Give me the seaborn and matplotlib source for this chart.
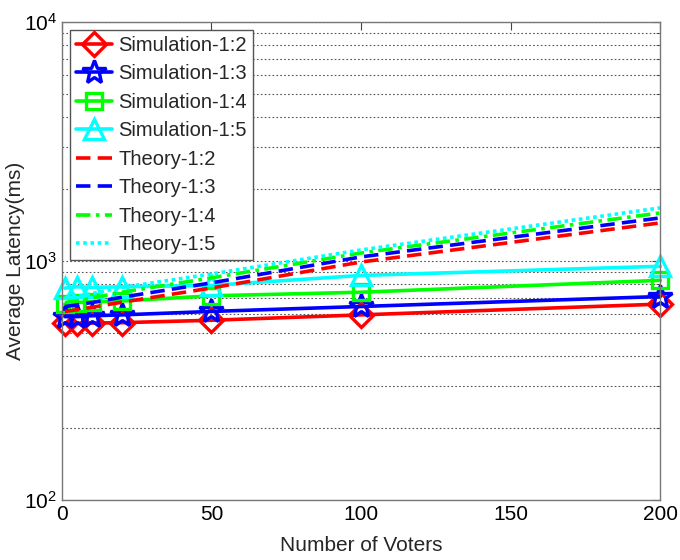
import pandas as pd
import numpy as np
import matplotlib
matplotlib.use("Agg")
import matplotlib.pyplot as plt
import seaborn as sns
from matplotlib.ticker import LogLocator, NullFormatter

# values
voters = [1, 5, 10, 20, 50, 100, 200]

sim_12 = [550, 548, 550, 552, 565, 595, 660]
sim_13 = [585, 585, 590, 595, 615, 645, 710]
sim_14 = [660, 670, 675, 680, 715, 740, 830]
sim_15 = [770, 780, 775, 780, 790, 870, 950]

theory_12 = [615, 625, 640, 672, 771, 990, 1443]
theory_13 = [645, 655, 670, 705, 810, 1040, 1514]
theory_14 = [670, 680, 700, 740, 850, 1080, 1588]
theory_15 = [700, 712, 730, 775, 882, 1112, 1667]

series_names = ["Simulation-1:2", "Simulation-1:3", "Simulation-1:4", "Simulation-1:5",
                "Theory-1:2", "Theory-1:3", "Theory-1:4", "Theory-1:5"]
series_vals = [sim_12, sim_13, sim_14, sim_15, theory_12, theory_13, theory_14, theory_15]

rows = []
for name, vals in zip(series_names, series_vals):
    for n, v in zip(voters, vals):
        rows.append({"series": name, "voters": n, "latency": v})
df = pd.DataFrame(rows)

# styling per series (matlab-ish)
colors = {"1:2": (1, 0, 0), "1:3": (0, 0, 1), "1:4": (0, 1, 0), "1:5": (0, 1, 1)}
sim_markers = {"1:2": "D", "1:3": "*", "1:4": "s", "1:5": "^"}
sim_msize = {"1:2": 12, "1:3": 18, "1:4": 12, "1:5": 15}
theory_ls = {"1:2": (0, (4, 2)), "1:3": (0, (4, 2)), "1:4": (0, (4, 1.5, 1, 1.5)), "1:5": (0, (1, 1))}

sns.set_style("white")
plt.rcParams["font.family"] = ["Liberation Sans", "DejaVu Sans"]
plt.rcParams["mathtext.fontset"] = "custom"
plt.rcParams["mathtext.rm"] = "Liberation Sans"

fig = plt.figure(figsize=(6.8, 5.6), dpi=100)
ax = fig.add_axes([0.091, 0.107, 0.88, 0.854])

for name in series_names:
    key = name.split("-")[1]
    sub = df[df["series"] == name]
    if name.startswith("Simulation"):
        sns.lineplot(data=sub, x="voters", y="latency", ax=ax, color=colors[key],
                     lw=2.6, marker=sim_markers[key], markersize=sim_msize[key],
                     markerfacecolor="none", markeredgecolor=colors[key],
                     markeredgewidth=2.4, label=name, clip_on=False)
    else:
        sns.lineplot(data=sub, x="voters", y="latency", ax=ax, color=colors[key],
                     lw=2.6, linestyle=theory_ls[key], label=name, clip_on=False)

ax.set_yscale("log")
ax.set_ylim(100, 10000)
ax.set_xlim(0, 200)
ax.set_xticks([0, 50, 100, 150, 200])
ax.yaxis.set_major_locator(LogLocator(base=10, numticks=5))
ax.yaxis.set_minor_locator(LogLocator(base=10, subs=np.arange(2, 10), numticks=20))
ax.yaxis.set_minor_formatter(NullFormatter())

ax.grid(False)
ax.yaxis.grid(True, which="both", linestyle=(0, (1.5, 2)), color="#555555", linewidth=0.8)
ax.set_axisbelow(True)

ax.tick_params(axis="both", which="major", direction="in", length=6, width=0.8,
               top=True, right=True, labelsize=15, colors="#444444", labelcolor="black")
ax.tick_params(axis="y", which="minor", direction="in", length=3, width=0.6,
               right=True, colors="#444444")
for sp in ax.spines.values():
    sp.set_color("#777777")
    sp.set_linewidth(1.0)

ax.set_xlabel("Number of Voters", fontsize=15, labelpad=9)
ax.set_ylabel("Average Latency(ms)", fontsize=15)
ax.yaxis.set_label_coords(-0.062, 0.5)

leg = ax.legend(loc="upper left", fontsize=14.5, frameon=True, fancybox=False,
                handlelength=1.8, handletextpad=0.3, borderpad=0.3,
                labelspacing=0.47, borderaxespad=0.4)
leg.get_frame().set_edgecolor("#555555")
leg.get_frame().set_linewidth(1.0)
leg.get_frame().set_alpha(1.0)

fig.savefig("out.png", dpi=100)
